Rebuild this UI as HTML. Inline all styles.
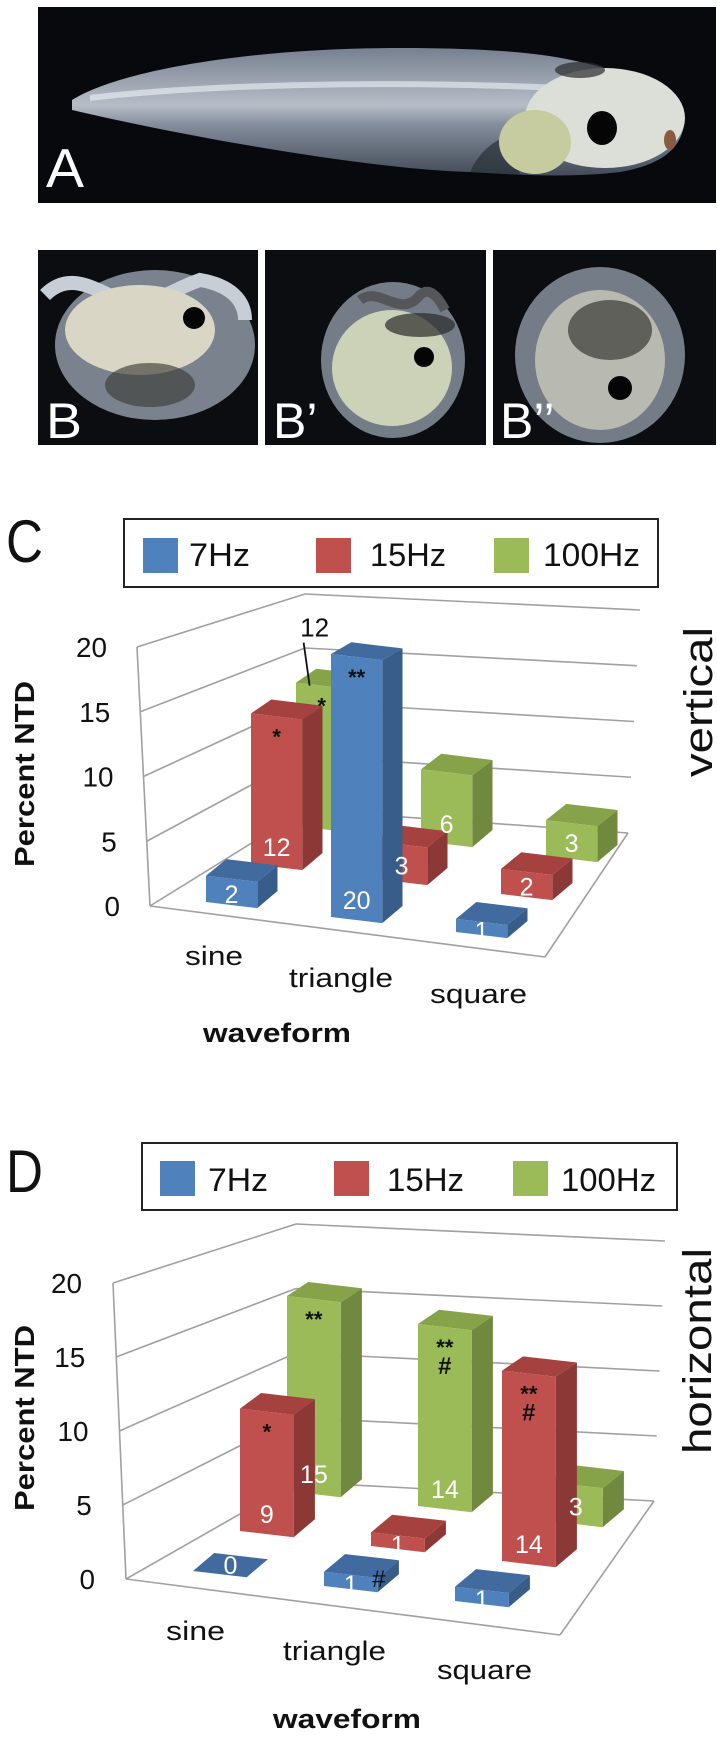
<!DOCTYPE html>
<html><head><meta charset="utf-8">
<style>
html,body{margin:0;padding:0;background:#fff;}
svg{display:block;font-family:"Liberation Sans",Arial,sans-serif;}
</style></head>
<body>
<svg id="fig" width="717" height="1743" viewBox="0 0 717 1743" xmlns="http://www.w3.org/2000/svg">
<defs>
<clipPath id="clipA"><rect x="38" y="7" width="678" height="196"/></clipPath>
<clipPath id="clipB1"><rect x="38" y="250" width="220" height="195"/></clipPath>
<clipPath id="clipB2"><rect x="265" y="250" width="221" height="195"/></clipPath>
<clipPath id="clipB3"><rect x="493" y="250" width="223" height="195"/></clipPath>
<linearGradient id="tailG" x1="0" y1="0" x2="0" y2="1"><stop offset="0" stop-color="#8a95a6"/><stop offset="0.45" stop-color="#d5dde8"/><stop offset="0.6" stop-color="#9aa5b5"/><stop offset="1" stop-color="#4e5766"/></linearGradient>
</defs>

<g clip-path="url(#clipA)">
<rect x="38" y="7" width="678" height="196" fill="#07090d"/>
<path d="M72,100 C120,70 250,48 400,48 C480,48 540,52 580,62 C630,72 670,95 684,125 C680,150 660,165 620,172 C570,178 520,175 470,172 C380,170 200,140 72,110 Z" fill="url(#tailG)" opacity="0.85"/>
<path d="M90,98 C200,85 380,80 560,88" stroke="#eef3f8" stroke-width="6" fill="none" opacity="0.6"/>
<path d="M470,172 C480,150 495,140 510,135 L520,175 Z" fill="#2a3038" opacity="0.7"/>
<ellipse cx="605" cy="118" rx="80" ry="50" fill="#dcdfd8"/>
<ellipse cx="535" cy="142" rx="36" ry="32" fill="#c6cca0"/>
<ellipse cx="580" cy="70" rx="25" ry="8" fill="#2b2b2b" opacity="0.7"/>
<ellipse cx="602" cy="128" rx="15" ry="17" fill="#050505"/>
<ellipse cx="670" cy="140" rx="6" ry="10" fill="#8a5a40"/>
<text x="46" y="187" font-size="55" fill="#fff" textLength="38" lengthAdjust="spacingAndGlyphs">A</text>
</g>

<g clip-path="url(#clipB1)">
<rect x="38" y="250" width="220" height="195" fill="#0b0d11"/>
<ellipse cx="155" cy="345" rx="100" ry="75" fill="#8e98a5" opacity="0.85"/>
<path d="M45,295 C70,270 95,290 120,300 C150,310 170,290 200,280 C230,285 245,300 245,320" stroke="#c8ced6" stroke-width="14" fill="none"/>
<ellipse cx="140" cy="330" rx="75" ry="45" fill="#d9d6c6"/>
<ellipse cx="150" cy="385" rx="45" ry="22" fill="#3e3d38" opacity="0.65"/>
<circle cx="194" cy="318" r="11" fill="#050505"/>
<text x="46" y="438" font-size="50" fill="#fff" textLength="36" lengthAdjust="spacingAndGlyphs">B</text>
</g>
<g clip-path="url(#clipB2)">
<rect x="265" y="250" width="221" height="195" fill="#0b0d11"/>
<ellipse cx="393" cy="360" rx="72" ry="78" fill="#8e98a5" opacity="0.8"/>
<ellipse cx="392" cy="368" rx="60" ry="58" fill="#ccd2b8"/>
<path d="M360,300 C380,285 400,320 420,295 C430,285 440,300 445,310" stroke="#55565a" stroke-width="10" fill="none"/>
<ellipse cx="420" cy="325" rx="35" ry="12" fill="#2b2b2b" opacity="0.7"/>
<circle cx="424" cy="357" r="10" fill="#050505"/>
<text x="273" y="438" font-size="50" fill="#fff">B’</text>
</g>
<g clip-path="url(#clipB3)">
<rect x="493" y="250" width="223" height="195" fill="#0b0d11"/>
<ellipse cx="600" cy="355" rx="85" ry="88" fill="#8e98a5" opacity="0.8"/>
<ellipse cx="600" cy="360" rx="65" ry="70" fill="#b8b9b0"/>
<ellipse cx="610" cy="330" rx="42" ry="30" fill="#3a3a38" opacity="0.7"/>
<circle cx="620" cy="388" r="12" fill="#050505"/>
<text x="500" y="438" font-size="50" fill="#fff">B’’</text>
</g>

<g id="chartC"></g>
<g id="chartD"></g>
</svg>

<script>
const categories = ['sine', 'triangle', 'square'];
const seriesNames = ['7Hz', '15Hz', '100Hz'];
const yTicks = [0, 5, 10, 15, 20];
const tickLabels = ['0', '5', '10', '15', '20'];
const vertical7Hz = [2, 20, 1];
const vertical15Hz = [12, 3, 2];
const vertical100Hz = [12, 6, 3];
const horizontal7Hz = [0, 1, 1];
const horizontal15Hz = [9, 1, 14];
const horizontal100Hz = [15, 14, 3];
const verticalMarks = [[1, 0, ['*']], [2, 0, ['*']], [0, 1, ['**']]];
const horizontalMarks = [[1, 0, ['*']], [2, 0, ['**']], [2, 1, ['**', '#']], [1, 2, ['**', '#']]];
const horizontalSideMarks = [[0, 1, '#']];
const verticalCallouts = [[2, 0]];

const NS = 'http://www.w3.org/2000/svg';
const COLORS = [
  {front: '#4f81bd', side: '#385d8a', top: '#416b9e'},
  {front: '#c0504d', side: '#8c3836', top: '#a5423f'},
  {front: '#9bbb59', side: '#71893f', top: '#86a34a'}
];
function mk(tag, attrs, parent) {
  const e = document.createElementNS(NS, tag);
  for (const k in attrs) e.setAttribute(k, attrs[k]);
  parent.appendChild(e);
  return e;
}
function lerp(a, b, t) { return a + (b - a) * t; }

function drawChart(g, cfg, values, marks, sideMarks, callouts, labels) {
  const vmax = yTicks[yTicks.length - 1];
  const leftPt = v => [lerp(cfg.L0[0], cfg.L20[0], v / vmax), lerp(cfg.L0[1], cfg.L20[1], v / vmax)];
  const backPt = v => [cfg.Bx, lerp(cfg.B0, cfg.B20, v / vmax)];
  const rightPt = v => [lerp(cfg.R0[0], cfg.R20[0], v / vmax), lerp(cfg.R0[1], cfg.R20[1], v / vmax)];
  const proj = (i, j, v) => [cfg.O[0] + i * cfg.A[0] + j * cfg.B[0],
                             cfg.O[1] + i * cfg.A[1] + j * cfg.B[1] - v * (cfg.s0 - cfg.ds * j)];
  const line = (p, q, name) => {
    const l = mk('line', {x1: p[0], y1: p[1], x2: q[0], y2: q[1], stroke: '#a0a0a0', 'stroke-width': 1.6}, g);
    
    
  };
  yTicks.forEach(v => {
    line(leftPt(v), backPt(v), 'side-wall-gridline');
    line(backPt(v), rightPt(v), 'back-wall-gridline');
  });
  line(leftPt(0), leftPt(vmax), 'left-wall-edge');
  line(leftPt(0), cfg.FR, 'floor-front-edge');
  line(cfg.FR, rightPt(0), 'floor-right-edge');
  yTicks.forEach((v, k) => {
    const p = leftPt(v);
    const lbl = tickLabels[k];
    const t = mk('text', {x: p[0] - cfg.tickGap, y: p[1] + 10, 'font-size': 28, 'text-anchor': 'end', fill: '#111', textLength: lbl.length * 15.5, lengthAdjust: 'spacingAndGlyphs'}, g);
    
    
    t.textContent = lbl;
  });
  const poly = (pts, fill, name) => {
    const p = mk('polygon', {points: pts.map(q => q[0].toFixed(1) + ',' + q[1].toFixed(1)).join(' '), fill: fill}, g);
    
    
  };
  const W = 0.41, D = 0.45;
  const barInfo = {};
  for (let j = 2; j >= 0; j--) {
    for (let i = 0; i < 3; i++) {
      const v = values[j][i];
      const c = COLORS[j];
      const nm = 'bar-' + seriesNames[j].toLowerCase() + '-' + categories[i];
      poly([proj(i + W, j, 0), proj(i + W, j + D, 0), proj(i + W, j + D, v), proj(i + W, j, v)], c.side, nm + '-side');
      poly([proj(i, j, v), proj(i + W, j, v), proj(i + W, j + D, v), proj(i, j + D, v)], c.top, nm + '-top');
      if (v > 0) poly([proj(i, j, 0), proj(i + W, j, 0), proj(i + W, j, v), proj(i, j, v)], c.front, nm);
      const bottom = proj(i + W / 2, j, 0), top = proj(i + W / 2, j, v);
      barInfo[j + '_' + i] = {bottom, top};
    }
  }
  for (let j = 0; j < 3; j++) for (let i = 0; i < 3; i++) {
    if (callouts.some(c => c[0] === j && c[1] === i)) continue;
    const v = values[j][i];
    const b = barInfo[j + '_' + i];
    let cy, cx = b.bottom[0];
    const h = b.bottom[1] - b.top[1];
    if (v === 0) { const t = proj(i + W / 2, j + D / 2, 0); cx = t[0]; cy = t[1]; }
    else if (h > 40) cy = b.bottom[1] - 20;
    else cy = (b.bottom[1] + b.top[1]) / 2 + 2;
    const t = mk('text', {x: cx, y: cy + 9, 'font-size': 25, 'text-anchor': 'middle', fill: '#fff'}, g);
    
    
    t.textContent = String(v);
  }
  marks.forEach(m => {
    const b = barInfo[m[0] + '_' + m[1]];
    m[2].forEach((s, k) => {
      const isHash = s === '#';
      const t = mk('text', {x: b.top[0], y: b.top[1] + (isHash ? 22 + k * 25 : 28 + k * 25), 'font-size': isHash ? 24 : 22, 'text-anchor': 'middle', fill: '#111', 'font-weight': 'bold'}, g);
      
      
      t.textContent = s;
    });
  });
  sideMarks.forEach(m => {
    const b = barInfo[m[0] + '_' + m[1]];
    const t = mk('text', {x: b.bottom[0] + 28, y: b.bottom[1] - 2, 'font-size': 24, 'text-anchor': 'middle', fill: '#111'}, g);
    
    
    t.textContent = m[2];
  });
  callouts.forEach(c => {
    const b = barInfo[c[0] + '_' + c[1]];
    const v = values[c[0]][c[1]];
    const l = mk('line', {x1: b.top[0] - 18, y1: b.top[1] - 43, x2: b.top[0] - 12, y2: b.top[1], stroke: '#111', 'stroke-width': 1.8}, g);
    
    
    const t = mk('text', {x: b.top[0] - 7, y: b.top[1] - 49, 'font-size': 26, 'text-anchor': 'middle', fill: '#111'}, g);
    
    
    t.textContent = String(v);
  });
  const L = cfg.legend;
  const box = mk('rect', {x: L.x, y: L.y, width: L.w, height: L.h, fill: '#fff', stroke: '#222', 'stroke-width': 2}, g);
  
  
  seriesNames.forEach((n, k) => {
    const sw = mk('rect', {x: L.sx[k], y: L.sy, width: 35, height: 35, fill: COLORS[k].front}, g);
    
    
    const t = mk('text', {x: L.tx[k], y: L.ty, 'font-size': 32, fill: '#111', textLength: L.tw[k], lengthAdjust: 'spacingAndGlyphs'}, g);
    
    
    t.textContent = n;
  });
  categories.forEach((c, k) => {
    const t = mk('text', {x: labels.cx[k], y: labels.cy[k], 'font-size': 27, fill: '#111', textLength: labels.cw[k], lengthAdjust: 'spacingAndGlyphs'}, g);
    
    
    t.textContent = c;
  });
  const xt = mk('text', {x: labels.wx, y: labels.wy, 'font-size': 27, 'font-weight': 'bold', fill: '#111', textLength: 148, lengthAdjust: 'spacingAndGlyphs'}, g);
  
  
  xt.textContent = 'waveform';
  const yt = mk('text', {x: 0, y: 0, 'font-size': 28, 'font-weight': 'bold', fill: '#111', 'text-anchor': 'middle', textLength: 186, lengthAdjust: 'spacingAndGlyphs', transform: 'translate(' + labels.yx + ',' + labels.yy + ') rotate(-90)'}, g);
  
  
  yt.textContent = 'Percent NTD';
  const ot = mk('text', {x: 0, y: 0, 'font-size': 40, fill: '#111', 'text-anchor': 'middle', textLength: labels.ol, lengthAdjust: 'spacingAndGlyphs', transform: 'translate(' + labels.ox + ',' + labels.oy + ') rotate(-90)'}, g);
  
  
  ot.textContent = labels.orient;
  const pl = mk('text', {x: labels.px, y: labels.py, 'font-size': 60, fill: '#111', textLength: 37, lengthAdjust: 'spacingAndGlyphs'}, g);
  
  
  pl.textContent = labels.letter;
}

drawChart(document.getElementById('chartC'), {
  L0: [150, 906], L20: [137, 647], Bx: 305, B0: 810, B20: 594, R0: [628, 833], R20: [640, 610], FR: [545, 957],
  O: [206, 902], A: [125, 15], B: [45, -38], s0: 13.15, ds: 0.6, tickGap: 30,
  legend: {x: 124, y: 519, w: 534, h: 68, sx: [143, 316, 494], sy: 538, tx: [189, 370, 543], ty: 566, tw: [61, 76, 97]}
}, [vertical7Hz, vertical15Hz, vertical100Hz], verticalMarks, [], verticalCallouts,
{cx: [185, 289, 430], cy: [965, 987, 1003], cw: [58, 104, 97], wx: 203, wy: 1042, yx: 34, yy: 774,
 ox: 712, oy: 702, ol: 150, orient: 'vertical', px: 6, py: 562, letter: 'C'});

drawChart(document.getElementById('chartD'), {
  L0: [126, 1579], L20: [113, 1283], Bx: 296, B0: 1482, B20: 1224, R0: [654, 1501], R20: [665, 1241], FR: [560, 1635],
  O: [193, 1571], A: [131, 15], B: [47, -40], s0: 14.2, ds: 0.6, tickGap: 31,
  legend: {x: 142, y: 1143, w: 535, h: 67, sx: [160, 334, 513], sy: 1161, tx: [208, 387, 561], ty: 1191, tw: [60, 77, 95]}
}, [horizontal7Hz, horizontal15Hz, horizontal100Hz], horizontalMarks, horizontalSideMarks, [],
{cx: [166, 283, 437], cy: [1640, 1660, 1679], cw: [59, 103, 95], wx: 273, wy: 1728, yx: 34, yy: 1418,
 ox: 711, oy: 1351, ol: 206, orient: 'horizontal', px: 6, py: 1192, letter: 'D'});
</script>
</body></html>
